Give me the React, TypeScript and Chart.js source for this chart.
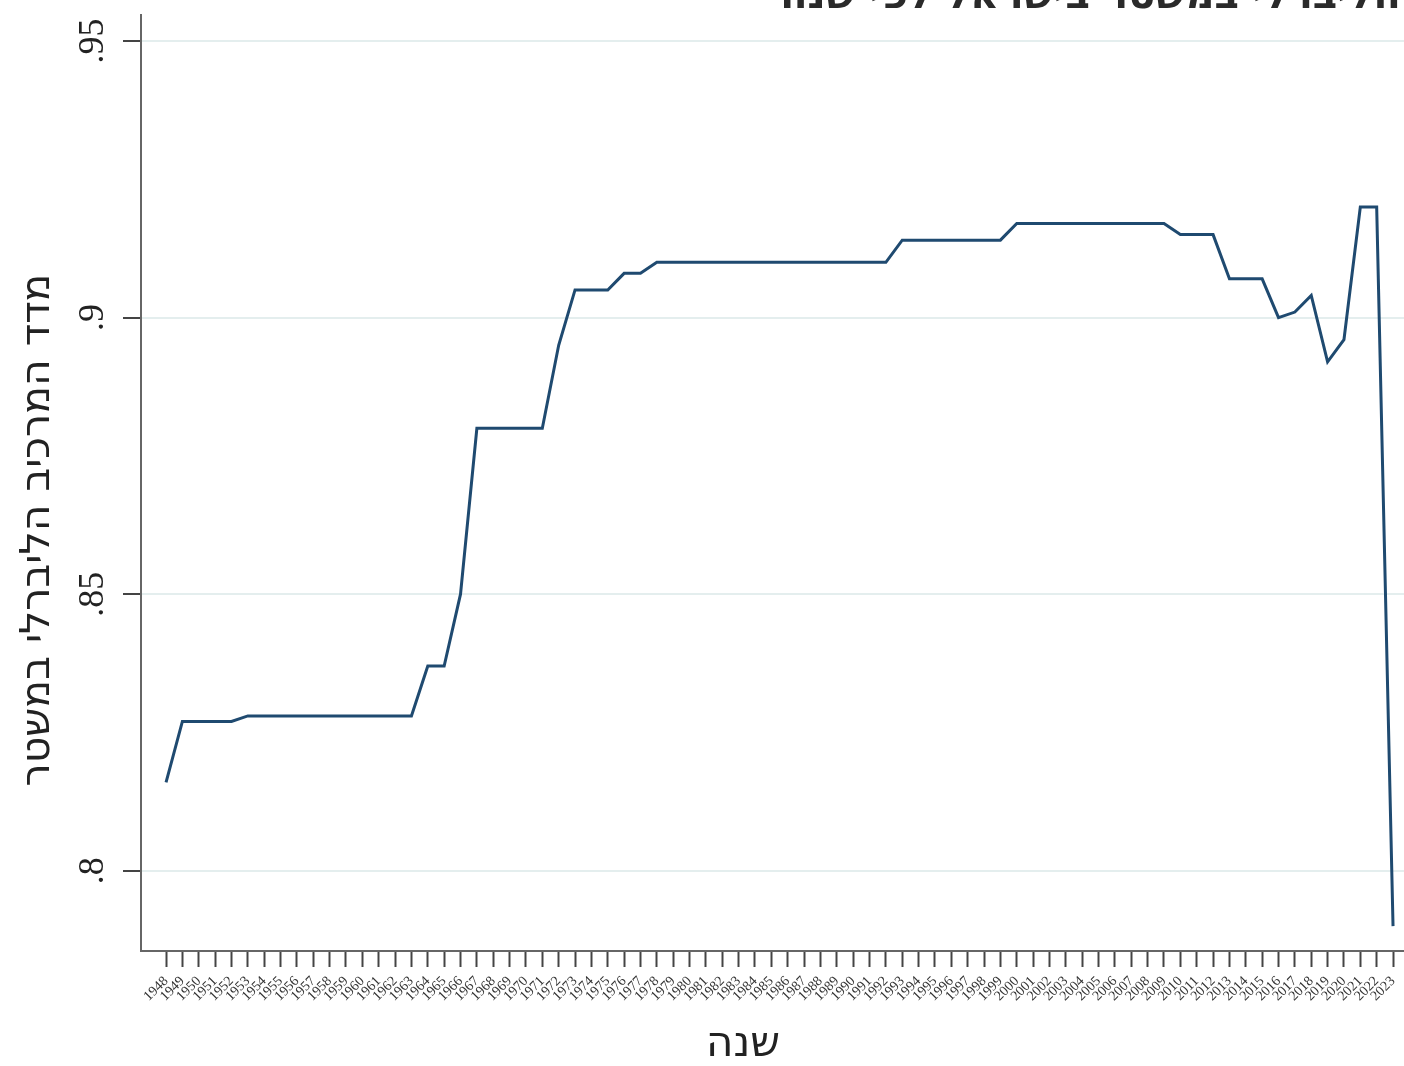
import { useEffect, useRef } from "react";
import { Chart, registerables } from "chart.js";

Chart.register(...registerables);

const years = [
  1948, 1949, 1950, 1951, 1952, 1953, 1954, 1955, 1956, 1957, 1958, 1959, 1960,
  1961, 1962, 1963, 1964, 1965, 1966, 1967, 1968, 1969, 1970, 1971, 1972, 1973,
  1974, 1975, 1976, 1977, 1978, 1979, 1980, 1981, 1982, 1983, 1984, 1985, 1986,
  1987, 1988, 1989, 1990, 1991, 1992, 1993, 1994, 1995, 1996, 1997, 1998, 1999,
  2000, 2001, 2002, 2003, 2004, 2005, 2006, 2007, 2008, 2009, 2010, 2011, 2012,
  2013, 2014, 2015, 2016, 2017, 2018, 2019, 2020, 2021, 2022, 2023,
];

const liberalIndex = [
  0.816, 0.827, 0.827, 0.827, 0.827, 0.828, 0.828, 0.828, 0.828, 0.828, 0.828,
  0.828, 0.828, 0.828, 0.828, 0.828, 0.837, 0.837, 0.85, 0.88, 0.88, 0.88, 0.88,
  0.88, 0.895, 0.905, 0.905, 0.905, 0.908, 0.908, 0.91, 0.91, 0.91, 0.91, 0.91,
  0.91, 0.91, 0.91, 0.91, 0.91, 0.91, 0.91, 0.91, 0.91, 0.91, 0.914, 0.914,
  0.914, 0.914, 0.914, 0.914, 0.914, 0.917, 0.917, 0.917, 0.917, 0.917, 0.917,
  0.917, 0.917, 0.917, 0.917, 0.915, 0.915, 0.915, 0.907, 0.907, 0.907, 0.9,
  0.901, 0.904, 0.892, 0.896, 0.92, 0.92, 0.79,
];

const yTicks = [0.8, 0.85, 0.9, 0.95];
const yTickLabels = [".8", ".85", ".9", ".95"];

const chartTitle = "מדד המרכיב הליברלי במשטר בישראל לפי שנה";
const xTitle = "שנה";
const yTitle = "מדד המרכיב הליברלי במשטר";

const overlay = {
  id: "overlay",
  afterDraw(chart: any) {
    const ctx = chart.ctx as CanvasRenderingContext2D;
    const ys = chart.scales.y;
    ctx.save();
    ctx.fillStyle = "#222";
    ctx.font = '36px "Liberation Serif"';
    ctx.textAlign = "center";
    ctx.textBaseline = "middle";
    yTicks.forEach((v, i) => {
      const py = ys.getPixelForValue(v);
      ctx.save();
      ctx.translate(94, py);
      ctx.rotate(-Math.PI / 2);
      ctx.fillText(yTickLabels[i], 0, 0);
      ctx.restore();
    });
    // y-axis title
    ctx.save();
    ctx.font = '41px "DejaVu Sans"';
    ctx.translate(38, 530);
    ctx.rotate(-Math.PI / 2);
    ctx.fillText(yTitle, 0, 0);
    ctx.restore();
    // chart title (mostly above the visible area)
    ctx.fillStyle = "#2a2a2a";
    ctx.font = 'bold 40px "DejaVu Sans"';
    ctx.textAlign = "left";
    ctx.textBaseline = "alphabetic";
    ctx.fillText(chartTitle, 780, 8);
    // x-axis title
    ctx.fillStyle = "#222";
    ctx.font = '42px "DejaVu Sans"';
    ctx.textAlign = "center";
    ctx.textBaseline = "middle";
    ctx.fillText(xTitle, 743, 1045);
    ctx.restore();
  },
};

export default function App() {
  const ref = useRef<HTMLCanvasElement | null>(null);

  useEffect(() => {
    if (!ref.current) return;
    const chart = new Chart(ref.current, {
      type: "line",
      data: {
        datasets: [
          {
            data: years.map((yr, i) => ({ x: yr, y: liberalIndex[i] })),
            borderColor: "#1f4a70",
            borderWidth: 3,
            pointRadius: 0,
            tension: 0,
            fill: false,
          },
        ],
      },
      options: {
        animation: false,
        responsive: true,
        maintainAspectRatio: false,
        layout: { padding: { top: 15, left: 0, right: 0, bottom: 0 } },
        plugins: {
          legend: { display: false },
          tooltip: { enabled: false },
        },
        scales: {
          x: {
            type: "linear",
            min: 1946.47,
            max: 2023.67,
            afterBuildTicks: (s: any) => {
              s.ticks = years.map((v) => ({ value: v }));
            },
            afterFit: (s: any) => {
              s.height = 115;
              s.paddingLeft = 0;
              s.paddingRight = 0;
            },
            ticks: {
              autoSkip: false,
              minRotation: 45,
              maxRotation: 45,
              padding: 6,
              color: "#333",
              font: { family: "Liberation Serif", size: 14 },
              callback: (v: any) => String(v),
            },
            grid: {
              drawOnChartArea: false,
              tickLength: 16,
              tickColor: "#444",
              tickWidth: 2,
            },
            border: { color: "#666", width: 2 },
          },
          y: {
            type: "linear",
            min: 0.7855,
            max: 0.9547,
            afterBuildTicks: (s: any) => {
              s.ticks = yTicks.map((v) => ({ value: v }));
            },
            afterFit: (s: any) => {
              s.width = 141;
              s.paddingTop = 0;
              s.paddingBottom = 0;
            },
            ticks: { color: "rgba(0,0,0,0)" },
            grid: {
              color: "#e4eeee",
              lineWidth: 2,
              tickLength: 18,
              tickColor: "#444",
              tickWidth: 2,
            },
            border: { color: "#666", width: 2 },
          },
        },
      },
      plugins: [overlay],
    });
    return () => chart.destroy();
  }, []);

  return (
    <div
      style={{
        position: "absolute",
        left: 0,
        top: 0,
        width: 1404,
        height: 1066,
        background: "#fff",
        overflow: "hidden",
      }}
    >
      <canvas ref={ref} />
    </div>
  );
}
